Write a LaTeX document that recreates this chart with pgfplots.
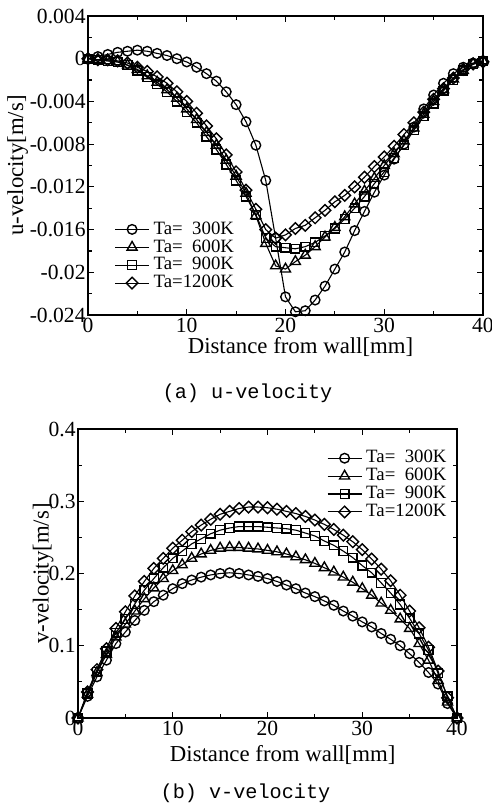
\documentclass[border=0pt]{standalone}
\usepackage{fontspec}
\setmainfont{Liberation Serif}
\newfontfamily\capfont{Liberation Mono}
\usepackage{pgfplots}
\pgfplotsset{compat=1.18}
\usepackage{pgfplotstable}

\pgfplotstableread{
x c300 c600 c900 c1200
0 0 0 0 0
1 0.0002 -0.0001 -0.0001 -0.0001
2 0.0004 -0.0002 -0.0002 -0.0001
3 0.0006 -0.0003 -0.0003 -0.0002
4 0.0007 -0.0006 -0.0006 -0.0004
5 0.0008 -0.0010 -0.0011 -0.0008
6 0.0007 -0.0016 -0.0017 -0.0012
7 0.0005 -0.0022 -0.0024 -0.0017
8 0.0003 -0.0029 -0.0031 -0.0023
9 0.0000 -0.0037 -0.0040 -0.0031
10 -0.0003 -0.0047 -0.0050 -0.0040
11 -0.0008 -0.0057 -0.0060 -0.0051
12 -0.0014 -0.0069 -0.0073 -0.0063
13 -0.0021 -0.0081 -0.0085 -0.0075
14 -0.0031 -0.0095 -0.0099 -0.0090
15 -0.0043 -0.0110 -0.0114 -0.0106
16 -0.0059 -0.0126 -0.0129 -0.0123
17 -0.0081 -0.0147 -0.0146 -0.0141
18 -0.0114 -0.0173 -0.0168 -0.0160
19 -0.0168 -0.0194 -0.0176 -0.0168
20 -0.0223 -0.0197 -0.0177 -0.0165
21 -0.0237 -0.0190 -0.0178 -0.0159
22 -0.0236 -0.0184 -0.0176 -0.0156
23 -0.0226 -0.0176 -0.0172 -0.0149
24 -0.0213 -0.0167 -0.0166 -0.0142
25 -0.0197 -0.0158 -0.0159 -0.0134
26 -0.0181 -0.0148 -0.0150 -0.0128
27 -0.0161 -0.0136 -0.0140 -0.0120
28 -0.0143 -0.0124 -0.0129 -0.0111
29 -0.0125 -0.0112 -0.0117 -0.0101
30 -0.0109 -0.0100 -0.0106 -0.0092
31 -0.0094 -0.0089 -0.0093 -0.0082
32 -0.0080 -0.0077 -0.0081 -0.0071
33 -0.0064 -0.0065 -0.0067 -0.0060
34 -0.0047 -0.0052 -0.0054 -0.0050
35 -0.0034 -0.0040 -0.0042 -0.0038
36 -0.0023 -0.0029 -0.0030 -0.0028
37 -0.0014 -0.0019 -0.0020 -0.0018
38 -0.0008 -0.0011 -0.0011 -0.0010
39 -0.0004 -0.0005 -0.0005 -0.0005
40 -0.0002 -0.0002 -0.0002 -0.0003
}\udata

\pgfplotstableread{
x c300 c600 c900 c1200
0 0 0 0 0
1 0.030 0.033 0.034 0.036
2 0.057 0.063 0.064 0.067
3 0.080 0.088 0.092 0.096
4 0.103 0.112 0.118 0.124
5 0.119 0.130 0.137 0.147
6 0.135 0.148 0.158 0.169
7 0.149 0.165 0.177 0.189
8 0.161 0.180 0.193 0.207
9 0.170 0.193 0.208 0.221
10 0.179 0.204 0.221 0.235
11 0.186 0.212 0.231 0.246
12 0.191 0.221 0.241 0.258
13 0.195 0.227 0.248 0.267
14 0.198 0.232 0.255 0.275
15 0.200 0.235 0.260 0.282
16 0.201 0.236 0.263 0.286
17 0.200 0.236 0.265 0.290
18 0.198 0.235 0.265 0.292
19 0.196 0.234 0.265 0.292
20 0.193 0.232 0.264 0.291
21 0.189 0.230 0.263 0.289
22 0.184 0.227 0.262 0.286
23 0.179 0.223 0.260 0.283
24 0.173 0.219 0.256 0.279
25 0.168 0.214 0.252 0.274
26 0.162 0.208 0.245 0.268
27 0.156 0.202 0.239 0.261
28 0.148 0.195 0.231 0.253
29 0.141 0.188 0.222 0.244
30 0.133 0.179 0.211 0.233
31 0.126 0.170 0.201 0.220
32 0.117 0.159 0.187 0.206
33 0.109 0.149 0.173 0.190
34 0.100 0.137 0.157 0.170
35 0.089 0.124 0.138 0.148
36 0.077 0.103 0.117 0.125
37 0.063 0.080 0.094 0.098
38 0.047 0.052 0.062 0.065
39 0.020 0.022 0.030 0.028
40 0 0 0 0
}\vdata

\pgfplotsset{
  common/.style={
    scale only axis,
    scaled y ticks=false, scaled x ticks=false,
    axis line style={line width=0.8pt},
    tick align=inside,
    tick style={black, line width=0.6pt},
    major tick length=3pt, minor tick length=2pt,
    xmin=0, xmax=40,
    xtick={0,10,20,30,40}, xticklabels={0,10,20,30,40},
    minor x tick num=1, minor y tick num=1,
    ticklabel style={font=\fontsize{10.8}{12}\selectfont},
    xticklabel style={inner sep=1.5pt, anchor=north},
    yticklabel style={inner sep=1pt, anchor=east},
    label style={font=\fontsize{11.4}{13}\selectfont},
    xlabel={Distance from wall[mm]},
    legend style={draw=none, fill=none, font=\fontsize{9.4}{9.4}\selectfont,
      inner sep=0pt, row sep=-2.8pt, legend cell align=left},
    every axis plot/.append style={black, line width=0.55pt,
      mark options={solid, fill=white, line width=0.7pt}},
  },
  mA/.style={mark=o, mark size=2.4pt},
  mB/.style={mark=triangle, mark size=2.9pt},
  mC/.style={mark=square, mark size=2.2pt},
  mD/.style={mark=square, mark size=2.05pt, mark options={solid, fill=white, line width=0.7pt, rotate=45}},
}

\begin{document}
\begin{tikzpicture}
\path[use as bounding box] (0,0) rectangle (246pt,-404.5pt);

\begin{axis}[common,
  at={(44pt,-157.5pt)}, anchor=south west,
  width=197.5pt, height=149.5pt,
  ymin=-0.024, ymax=0.004,
  ytick={-0.024,-0.02,-0.016,-0.012,-0.008,-0.004,0,0.004},
  yticklabels={-0.024,-0.02,-0.016,-0.012,-0.008,-0.004,0,0.004},
  xlabel style={at={(axis description cs:0.538,0)}, anchor=center, yshift=-16pt},
  ylabel={u-velocity[m/s]},
  ylabel style={at={(axis description cs:-0.178,0.5)}, anchor=center},
  legend style={at={(rel axis cs:0.066,0.327)}, anchor=north west},
]
\addplot[mA] table[x=x,y=c300] {\udata};
\addlegendentry{Ta=\hphantom{1}300K}
\addplot[mB] table[x=x,y=c600] {\udata};
\addlegendentry{Ta=\hphantom{1}600K}
\addplot[mC] table[x=x,y=c900] {\udata};
\addlegendentry{Ta=\hphantom{1}900K}
\addplot[mD] table[x=x,y=c1200] {\udata};
\addlegendentry{Ta=1200K}
\end{axis}

\node[anchor=base, font=\capfont\fontsize{10.1}{12}\selectfont] at (123.75pt,-199pt) {(a) u-velocity};

\begin{axis}[common,
  at={(39pt,-359pt)}, anchor=south west,
  width=189.5pt, height=144.5pt,
  ymin=0, ymax=0.4,
  ytick={0,0.1,0.2,0.3,0.4},
  yticklabels={0,0.1,0.2,0.3,0.4},
  xlabel style={at={(axis description cs:0.54,0)}, anchor=center, yshift=-18.5pt},
  ylabel={v-velocity[m/s]},
  ylabel style={at={(axis description cs:-0.092,0.5)}, anchor=center},
  legend style={at={(rel axis cs:0.984,0.941)}, anchor=north east},
]
\addplot[mA] table[x=x,y=c300] {\vdata};
\addlegendentry{Ta=\hphantom{1}300K}
\addplot[mB] table[x=x,y=c600] {\vdata};
\addlegendentry{Ta=\hphantom{1}600K}
\addplot[mC] table[x=x,y=c900] {\vdata};
\addlegendentry{Ta=\hphantom{1}900K}
\addplot[mD] table[x=x,y=c1200] {\vdata};
\addlegendentry{Ta=1200K}
\end{axis}

\node[anchor=base, font=\capfont\fontsize{10.1}{12}\selectfont] at (122.75pt,-399pt) {(b) v-velocity};
\end{tikzpicture}
\end{document}
